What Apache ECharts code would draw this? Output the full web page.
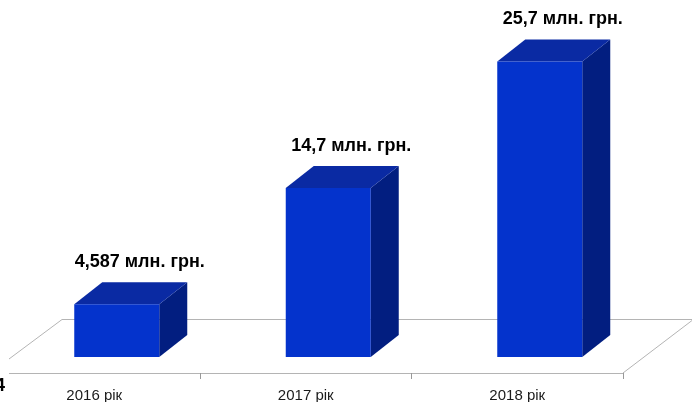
<!DOCTYPE html>
<html>
<head>
<meta charset="utf-8">
<script src="https://cdn.jsdelivr.net/npm/echarts@6/dist/echarts.min.js"></script>
<style>
html,body{margin:0;padding:0;background:#fff;}
#c{width:692px;height:402px;}
</style>
</head>
<body>
<div id="c"></div>
<script>
const categories = ['2016 рік', '2017 рік', '2018 рік'];
const values = [4.587, 14.7, 25.7];
const valueUnit = ' млн. грн.';

const chart = echarts.init(document.getElementById('c'), null, {renderer: 'canvas'});

const FRONT = '#0433cc', TOP = '#0a2aa3', SIDE = '#021e80';
const BW = 85, DX = 28, DY = -22, SHIFT = 22.5;

function renderBar(params, api) {
  const p = api.coord([api.value(0), api.value(1)]);
  const b = api.coord([api.value(0), 0]);
  const x0 = p[0] + SHIFT - BW / 2, x1 = x0 + BW;
  const top = p[1], bot = b[1];
  const label = String(values[params.dataIndex]).replace('.', ',') + valueUnit;
  return {
    type: 'group',
    children: [
      {type: 'polygon', shape: {points: [[x1, top], [x1 + DX, top + DY], [x1 + DX, bot + DY], [x1, bot]]}, style: {fill: SIDE}},
      {type: 'polygon', shape: {points: [[x0, top], [x1, top], [x1 + DX, top + DY], [x0 + DX, top + DY]]}, style: {fill: TOP}},
      {type: 'rect', shape: {x: x0, y: top, width: BW, height: bot - top}, style: {fill: FRONT}},
      {type: 'text', x: (x0 + x1) / 2 + 23, y: top - 42,
        style: {text: label, fill: '#000', font: 'bold 18px "Liberation Sans", Arial, sans-serif', align: 'center', verticalAlign: 'middle'}}
    ]
  };
}

const floorColor = '#b4b4b4';

chart.setOption({
  animation: false,
  grid: [
    {left: -11.5, width: 634.5, top: 12, bottom: 45, outerBoundsMode: 'none', containLabel: false},
    {left: -11.5, width: 634.5, bottom: 29, height: 1, outerBoundsMode: 'none', containLabel: false}
  ],
  xAxis: [
    {type: 'category', gridIndex: 0, data: categories, show: false},
    {type: 'category', gridIndex: 1, data: categories,
      axisLine: {show: false},
      axisTick: {show: true, length: 6, lineStyle: {color: '#999'}},
      axisLabel: {margin: 15, color: '#1a1a1a', fontSize: 15, fontFamily: '"Liberation Sans", Arial, sans-serif'}}
  ],
  yAxis: [
    {type: 'value', gridIndex: 0, min: 0, max: 30, show: false},
    {type: 'value', gridIndex: 1, show: false}
  ],
  graphic: [
    {type: 'polyline', shape: {points: [[62, 319.5], [692, 319.5]]}, style: {stroke: floorColor, lineWidth: 1}, z: 0},
    {type: 'polyline', shape: {points: [[62, 319.5], [9, 359]]}, style: {stroke: floorColor, lineWidth: 1}, z: 0},
    {type: 'polyline', shape: {points: [[692, 320.5], [623, 373]]}, style: {stroke: floorColor, lineWidth: 1}, z: 0},
    {type: 'polyline', shape: {points: [[9, 373.5], [623, 373.5]]}, style: {stroke: floorColor, lineWidth: 1}, z: 0},
    {type: 'text', left: -5, top: 377, style: {text: '4', font: 'bold 18px "Liberation Sans", Arial, sans-serif', fill: '#000'}}
  ],
  series: [{
    type: 'custom',
    xAxisIndex: 0, yAxisIndex: 0,
    data: values.map((v, i) => [i, v]),
    renderItem: renderBar,
    z: 5
  }]
});
</script>
</body>
</html>
